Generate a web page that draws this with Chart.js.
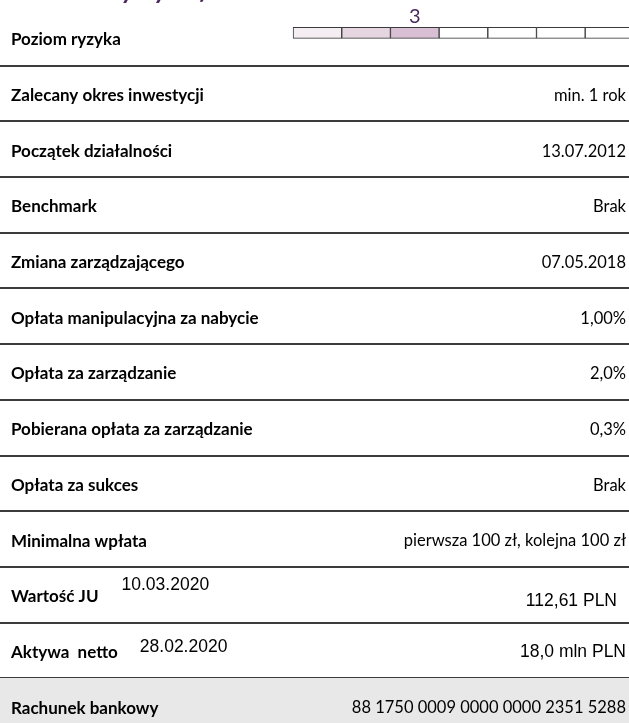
<!DOCTYPE html>
<html>
<head>
<meta charset="utf-8">
<script src="https://cdn.jsdelivr.net/npm/chart.js@4.4.1/dist/chart.umd.min.js"></script>
<style>
  html, body { margin: 0; padding: 0; background: #ffffff; overflow: hidden; }
  #wrap { position: relative; width: 629px; height: 734px; }
</style>
</head>
<body>
<div id="wrap"><canvas id="c"></canvas></div>
<script>
// ---- data ----
const titleText = 'Charakterystyka funduszu';
const rowLabels = [
  'Poziom ryzyka',
  'Zalecany okres inwestycji',
  'Początek działalności',
  'Benchmark',
  'Zmiana zarządzającego',
  'Opłata manipulacyjna za nabycie',
  'Opłata za zarządzanie',
  'Pobierana opłata za zarządzanie',
  'Opłata za sukces',
  'Minimalna wpłata',
  'Wartość JU',
  'Aktywa  netto',
  'Rachunek bankowy'
];
const rowValues = [
  '',
  'min. 1 rok',
  '13.07.2012',
  'Brak',
  '07.05.2018',
  '1,00%',
  '2,0%',
  '0,3%',
  'Brak',
  'pierwsza 100 zł, kolejna 100 zł',
  '112,61 PLN',
  '18,0 mln PLN',
  '88 1750 0009 0000 0000 2351 5288'
];
const rowDates = ['', '', '', '', '', '', '', '', '', '', '10.03.2020', '28.02.2020', ''];
const riskScale = [1, 2, 3, 4, 5, 6, 7];
const riskLevel = 3;
const highlightedRow = 'Rachunek bankowy';

// ---- styles ----
const riskShades = ['#f4edf2', '#e6d6e1', '#d8bfd3'];
const purple = '#4a2a5e';
const X_MIN = -6.02, X_MAX = 6.9;
const RISK_SHIFT = -5;

const riskData = riskScale.map(v => ({ x: [v - 1, v], y: rowLabels[0] }));
const riskColors = riskScale.map(v => v <= riskLevel ? riskShades[v - 1] : '#ffffff');

const arialRows = { 'Wartość JU': { date: -10, val: 6, right: 617, gap: 23 },
                    'Aktywa  netto': { date: -3, val: 2, right: 626, gap: 22 } };

const shiftPlugin = {
  id: 'riskShift',
  beforeDatasetDraw(chart, args) {
    if (args.index === 1) { chart.ctx.save(); chart.ctx.translate(0, RISK_SHIFT); }
  },
  afterDatasetDraw(chart, args) {
    if (args.index === 1) { chart.ctx.restore(); }
  }
};

const textPlugin = {
  id: 'tableText',
  afterDatasetsDraw(chart) {
    const ctx = chart.ctx;
    const ys = chart.scales.y;
    const xs = chart.scales.x;
    ctx.save();
    // clipped heading
    ctx.fillStyle = purple;
    ctx.font = 'italic 700 26px Lato';
    ctx.textAlign = 'left';
    ctx.textBaseline = 'alphabetic';
    ctx.fillText(titleText, 12, -1);

    // risk level number
    ctx.font = '400 20px Lato';
    ctx.textAlign = 'center';
    ctx.textBaseline = 'middle';
    ctx.fillText(String(riskLevel), xs.getPixelForValue(riskLevel - 0.5), ys.getPixelForValue(0) - 21);

    rowLabels.forEach((lab, i) => {
      const yc = ys.getPixelForValue(i);
      const spec = arialRows[lab];
      ctx.fillStyle = '#000000';
      ctx.textBaseline = 'middle';
      ctx.textAlign = 'left';
      ctx.font = '700 17px Lato';
      ctx.fillText(lab, 11, yc + 2);
      if (rowDates[i]) {
        const w = ctx.measureText(lab).width;
        ctx.font = '17.5px "Liberation Sans"';
        ctx.fillText(rowDates[i], 11 + w + spec.gap, yc + spec.date);
      }
      if (rowValues[i]) {
        ctx.textAlign = 'right';
        if (spec) {
          ctx.font = '17.5px "Liberation Sans"';
          ctx.fillText(rowValues[i], spec.right, yc + spec.val);
        } else {
          ctx.font = '400 16.5px Lato';
          ctx.fillText(rowValues[i], 626, yc + 2);
        }
      }
    });
    ctx.restore();
  }
};

new Chart(document.getElementById('c'), {
  type: 'bar',
  data: {
    labels: rowLabels,
    datasets: [
      {
        label: 'Rachunek',
        data: [{ x: [X_MIN, X_MAX], y: highlightedRow }],
        backgroundColor: '#e8e8e8',
        borderWidth: 0,
        grouped: false,
        barPercentage: 1,
        categoryPercentage: 1
      },
      {
        label: 'Poziom ryzyka',
        data: riskData,
        backgroundColor: riskColors,
        borderColor: '#3a3a3a',
        borderWidth: 1,
        borderSkipped: false,
        grouped: false,
        barThickness: 11
      }
    ]
  },
  options: {
    indexAxis: 'y',
    responsive: true,
    maintainAspectRatio: false,
    animation: false,
    layout: { padding: { top: 10, left: 0, right: 0, bottom: 0 } },
    plugins: { legend: { display: false }, tooltip: { enabled: false } },
    scales: {
      x: { type: 'linear', display: false, min: X_MIN, max: X_MAX },
      y: {
        type: 'category',
        display: true,
        border: { display: false },
        ticks: { display: false },
        grid: {
          offset: true,
          drawTicks: false,
          lineWidth: 2,
          color: (c) => c.index === 0 ? 'rgba(0,0,0,0)' : '#3c3c3c'
        }
      }
    }
  },
  plugins: [shiftPlugin, textPlugin]
});
</script>
</body>
</html>
